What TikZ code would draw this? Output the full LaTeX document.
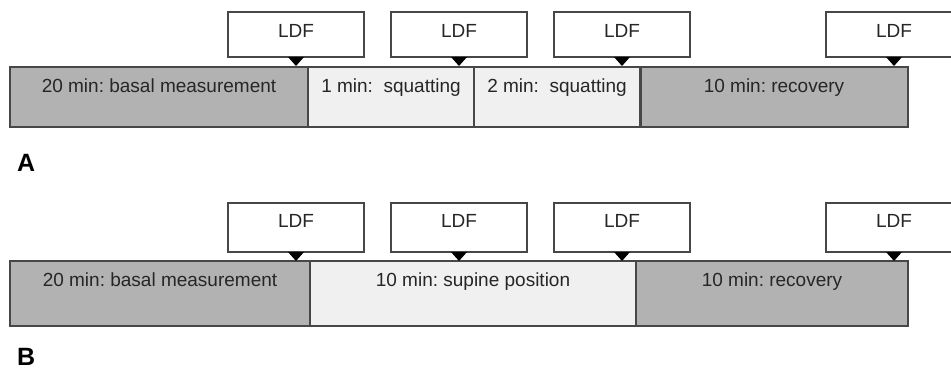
\documentclass[tikz,border=0pt]{standalone}
\usepackage{fontspec}
\setmainfont{Liberation Sans}
\frenchspacing
\begin{document}
\begin{tikzpicture}[x=1pt,y=-1pt,
  edge/.style={draw=black!72, line width=1.3pt},
  phase/.style={edge, rectangle, inner sep=0pt, outer sep=0pt, anchor=north west, minimum height=60pt},
  darkphase/.style={phase, fill=black!30},
  lightphase/.style={phase, fill=black!6},
  ldfbox/.style={edge, rectangle, fill=white, inner sep=0pt, outer sep=0pt, minimum width=136pt, minimum height=45pt, anchor=north west},
  ldftext/.style={anchor=base, font=\fontsize{19}{22}\selectfont, text=black!85},
  phasetext/.style={anchor=base, font=\fontsize{19}{22}\selectfont, text=black!85},
  paneltext/.style={anchor=base west, inner sep=0pt, font=\fontsize{25}{28}\selectfont\bfseries},
  pointer/.style={fill=black}
]
\useasboundingbox (0,0) rectangle (951,370);
\clip (0,0) rectangle (951,370);

% ---------- Panel A ----------
\node[darkphase, minimum width=298pt] (a1) at (10,67) {};
\node[lightphase, minimum width=166pt] (a2) at (308,67) {};
\node[lightphase, minimum width=166pt] (a3) at (474,67) {};
\node[darkphase, minimum width=267pt] (a4) at (641,67) {};
\node[phasetext] (ta1) at (159,92) {20 min: basal measurement};
\node[phasetext] (ta2) at (391,92) {1 min:\ \ squatting};
\node[phasetext] (ta3) at (557,92) {2 min:\ \ squatting};
\node[phasetext] (ta4) at (774,92) {10 min: recovery};

\foreach \n/\x in {la1/228, la2/391, la3/554, la4/826}{
  \node[ldfbox] (\n) at (\x,12) {};
  \node[ldftext] at ([yshift=20pt]\n.south) {LDF};
  \fill[pointer] ([xshift=-8pt]\n.south) -- ([xshift=8pt]\n.south) -- ([yshift=-9pt]\n.south) -- cycle;
}
\node[paneltext] (pa) at (17,171) {A};

% ---------- Panel B ----------
\node[darkphase, minimum width=300pt, minimum height=65pt] (b1) at (10,261) {};
\node[lightphase, minimum width=326pt, minimum height=65pt] (b2) at (310,261) {};
\node[darkphase, minimum width=272pt, minimum height=65pt] (b3) at (636,261) {};
\node[phasetext] (tb1) at (160,286) {20 min: basal measurement};
\node[phasetext] (tb2) at (473,286) {10 min: supine position};
\node[phasetext] (tb3) at (772,286) {10 min: recovery};

\foreach \n/\x in {lb1/228, lb2/391, lb3/554, lb4/826}{
  \node[ldfbox, minimum height=49pt] (\n) at (\x,203) {};
  \node[ldftext] at ([yshift=25pt]\n.south) {LDF};
  \fill[pointer] ([xshift=-8pt]\n.south) -- ([xshift=8pt]\n.south) -- ([yshift=-9pt]\n.south) -- cycle;
}
\node[paneltext] (pb) at (17,365) {B};
\end{tikzpicture}
\end{document}
